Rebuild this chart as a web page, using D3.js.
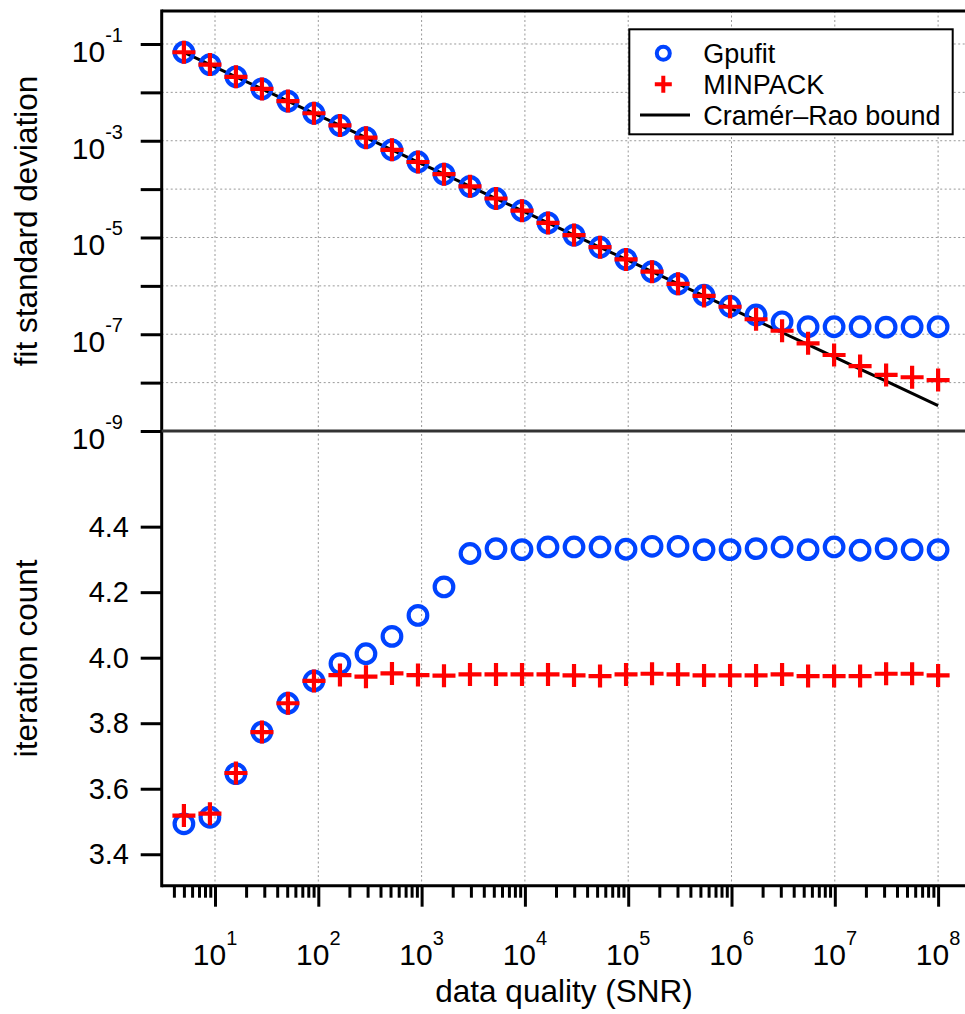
<!DOCTYPE html>
<html>
<head>
<meta charset="utf-8">
<script src="https://cdn.jsdelivr.net/npm/d3@7"></script>
<style>
  html, body { margin: 0; padding: 0; background: #fff; }
  svg { display: block; font-family: "Liberation Sans", Arial, sans-serif; }
</style>
</head>
<body>
<svg id="chart" width="965" height="1014"></svg>
<script>
// ---------------- data ----------------
const snr = [5, 8.93, 15.94, 28.46, 50.82, 90.74, 162.0, 289.3, 516.5, 922.3,
  1647, 2940, 5250, 9374, 16737, 29885, 53360, 95275, 170114, 303739,
  542327, 968326, 1.729e6, 3.087e6, 5.512e6, 9.842e6, 1.757e7, 3.138e7, 5.602e7, 1.0e8];

const crbStd = [0.067, 0.0375, 0.0210, 0.01177, 0.00659, 0.00369, 0.00207, 0.00116, 0.000649, 0.000363,
  0.000204, 0.000114, 6.38e-5, 3.58e-5, 2.0e-5, 1.12e-5, 6.28e-6, 3.52e-6, 1.97e-6, 1.10e-6,
  6.18e-7, 3.46e-7, 1.94e-7, 1.086e-7, 6.08e-8, 3.40e-8, 1.91e-8, 1.07e-8, 5.98e-9, 3.35e-9];

const gpufitStd = [0.0675, 0.0375, 0.0210, 0.0118, 0.0066, 0.0037, 0.00207, 0.00116, 0.00065, 0.000364,
  0.000204, 0.000114, 6.4e-5, 3.58e-5, 2.0e-5, 1.12e-5, 6.3e-6, 3.52e-6, 1.97e-6, 1.1e-6,
  6.4e-7, 3.8e-7, 2.5e-7, 1.81e-7, 1.43e-7, 1.43e-7, 1.43e-7, 1.40e-7, 1.43e-7, 1.43e-7];

const minpackStd = [0.0675, 0.0375, 0.0210, 0.0118, 0.0066, 0.0037, 0.00207, 0.00116, 0.00065, 0.000364,
  0.000204, 0.000114, 6.4e-5, 3.58e-5, 2.0e-5, 1.12e-5, 6.3e-6, 3.52e-6, 1.97e-6, 1.1e-6,
  6.2e-7, 3.7e-7, 2.04e-7, 1.18e-7, 6.5e-8, 3.72e-8, 2.2e-8, 1.44e-8, 1.29e-8, 1.13e-8];

const gpufitIter = [3.493, 3.513, 3.646, 3.773, 3.861, 3.929, 3.982, 4.012, 4.065, 4.129,
  4.216, 4.318, 4.333, 4.330, 4.338, 4.338, 4.338, 4.331, 4.340, 4.340,
  4.330, 4.330, 4.333, 4.338, 4.330, 4.338, 4.328, 4.333, 4.330, 4.330];

const minpackIter = [3.518, 3.524, 3.648, 3.773, 3.861, 3.929, 3.947, 3.942, 3.952, 3.947,
  3.945, 3.949, 3.949, 3.949, 3.949, 3.946, 3.944, 3.949, 3.951, 3.949,
  3.946, 3.946, 3.946, 3.949, 3.944, 3.944, 3.944, 3.951, 3.951, 3.946];

const xTickExps = [1, 2, 3, 4, 5, 6, 7, 8];
const yTopTickExps = [-1, -2, -3, -4, -5, -6, -7, -8, -9];
const yTopLabelExps = [-1, -3, -5, -7, -9];
const yBotTicks = [3.4, 3.6, 3.8, 4.0, 4.2, 4.4];
const legendLabels = ["Gpufit", "MINPACK", "Cramér–Rao bound"];

// ---------------- layout ----------------
const L = 161.7, R = 966, T = 11, MID = 431, B = 885.7;
const BLUE = "#0043ff", RED = "#ff0000";

const svg = d3.select("#chart");
svg.append("rect").attr("width", 965).attr("height", 1014).attr("fill", "#fff");

const x = d3.scaleLog().domain([Math.pow(10, 0.484), Math.pow(10, 8.27)]).range([L, R]);
const yTop = d3.scaleLog().domain([1e-9, Math.pow(10, -0.318)]).range([MID, T]);
const yBot = d3.scaleLinear().domain([3.304, 4.692]).range([B, MID]);

const decades = xTickExps.map(e => Math.pow(10, e));
const minorX = [];
for (let e = 0; e <= 8; e++) for (let m = 2; m <= 9; m++) {
  const v = m * Math.pow(10, e);
  if (v > x.domain()[0] && v < x.domain()[1]) minorX.push(v);
}

// ---------------- grid ----------------
const grid = svg.append("g").attr("stroke", "#999").attr("stroke-width", 1)
  .attr("stroke-dasharray", "2,2.5").attr("fill", "none");
grid.selectAll("line.vx").data(decades).join("line")
  .attr("x1", d => x(d)).attr("x2", d => x(d)).attr("y1", T).attr("y2", B);
grid.selectAll("line.hy").data(yTopTickExps.filter(e => e > -9).map(e => Math.pow(10, e))).join("line")
  .attr("class", "hy")
  .attr("x1", L).attr("x2", R).attr("y1", d => yTop(d)).attr("y2", d => yTop(d));

// ---------------- axes (ticks) ----------------
function styleAxis(g) {
  g.select(".domain").remove();
  g.selectAll(".tick line").attr("stroke", "#000").attr("stroke-width", 3);
  g.selectAll(".tick text").remove();
}
svg.append("g").attr("transform", `translate(${L},0)`)
  .call(d3.axisLeft(yTop).tickValues(yTopTickExps.map(e => Math.pow(10, e))).tickSize(21).tickFormat(""))
  .call(styleAxis);
svg.append("g").attr("transform", `translate(${L},0)`)
  .call(d3.axisLeft(yBot).tickValues(yBotTicks).tickSize(21).tickFormat(""))
  .call(styleAxis);
svg.append("g").attr("transform", `translate(0,${B})`)
  .call(d3.axisBottom(x).tickValues(decades).tickSize(21).tickFormat(""))
  .call(styleAxis);
svg.append("g").attr("transform", `translate(0,${B})`)
  .call(d3.axisBottom(x).tickValues(minorX).tickSize(12).tickFormat(""))
  .call(styleAxis);

// ---------------- data: top panel ----------------
const idx = d3.range(snr.length);
svg.append("path")
  .attr("d", d3.line().x(i => x(snr[i])).y(i => yTop(crbStd[i]))(idx))
  .attr("fill", "none").attr("stroke", "#000").attr("stroke-width", 3);

function circles(g, ys, yScale) {
  g.selectAll("circle.c").data(idx).join("circle")
    .attr("cx", i => x(snr[i])).attr("cy", i => yScale(ys[i])).attr("r", 9.3)
    .attr("fill", "none").attr("stroke", BLUE).attr("stroke-width", 4.2);
}
function crosses(g, ys, yScale) {
  g.selectAll("path.p").data(idx).join("path")
    .attr("d", "M-11.5,0H11.5M0,-11.5V11.5")
    .attr("transform", i => `translate(${x(snr[i])},${yScale(ys[i])})`)
    .attr("fill", "none").attr("stroke", RED).attr("stroke-width", 4.2);
}
circles(svg.append("g"), gpufitStd, yTop);
crosses(svg.append("g"), minpackStd, yTop);
circles(svg.append("g"), gpufitIter, yBot);
crosses(svg.append("g"), minpackIter, yBot);

// ---------------- frame ----------------
const frame = svg.append("g").attr("stroke-width", 3).attr("fill", "none");
frame.append("line").attr("x1", L).attr("x2", L).attr("y1", T - 1.5).attr("y2", B + 1.5).attr("stroke", "#000");
frame.append("line").attr("x1", L).attr("x2", R).attr("y1", T).attr("y2", T).attr("stroke", "#000");
frame.append("line").attr("x1", L).attr("x2", R).attr("y1", MID).attr("y2", MID).attr("stroke", "#333");
frame.append("line").attr("x1", L).attr("x2", R).attr("y1", B).attr("y2", B).attr("stroke", "#000");

// ---------------- tick labels ----------------
const tl = svg.append("g").attr("fill", "#000");
xTickExps.forEach(e => {
  const t = tl.append("text").attr("x", x(Math.pow(10, e))).attr("y", 965)
    .attr("text-anchor", "middle").attr("font-size", 30).text("10");
  t.append("tspan").attr("dy", -20).attr("font-size", 20).text(String(e));
});
yTopLabelExps.forEach(e => {
  const yy = yTop(Math.pow(10, e));
  const t = tl.append("text").attr("x", 123).attr("y", yy + 18)
    .attr("text-anchor", "end").attr("font-size", 30).text("10");
  t.append("tspan").attr("dy", -20).attr("font-size", 20).text("-" + Math.abs(e));
});
yBotTicks.forEach(v => {
  tl.append("text").attr("x", 129).attr("y", yBot(v) + 10)
    .attr("text-anchor", "end").attr("font-size", 29).text(v.toFixed(1));
});

// ---------------- axis titles ----------------
svg.append("text").attr("x", 564).attr("y", 1002).attr("text-anchor", "middle")
  .attr("font-size", 31.5).text("data quality (SNR)");
svg.append("text").attr("transform", `translate(37,${(T + MID) / 2}) rotate(-90)`)
  .attr("text-anchor", "middle").attr("font-size", 31.5).text("fit standard deviation");
svg.append("text").attr("transform", `translate(37,${(MID + B) / 2}) rotate(-90)`)
  .attr("text-anchor", "middle").attr("font-size", 31.5).text("iteration count");

// ---------------- legend ----------------
const lg = svg.append("g");
lg.append("rect").attr("x", 629.3).attr("y", 29.3).attr("width", 323.4).attr("height", 105)
  .attr("fill", "#fff").attr("stroke", "#000").attr("stroke-width", 2);
lg.append("circle").attr("cx", 663.3).attr("cy", 53.3).attr("r", 6.5)
  .attr("fill", "none").attr("stroke", BLUE).attr("stroke-width", 4);
lg.append("path").attr("d", "M-8.5,0H8.5M0,-8.5V8.5")
  .attr("transform", "translate(663.3,84.3)")
  .attr("fill", "none").attr("stroke", RED).attr("stroke-width", 4);
lg.append("line").attr("x1", 640).attr("x2", 690).attr("y1", 115).attr("y2", 115)
  .attr("stroke", "#000").attr("stroke-width", 3);
[62.5, 93.5, 124.5].forEach((yy, i) => {
  lg.append("text").attr("x", 703.3).attr("y", yy).attr("font-size", 27).text(legendLabels[i]);
});
</script>
</body>
</html>
